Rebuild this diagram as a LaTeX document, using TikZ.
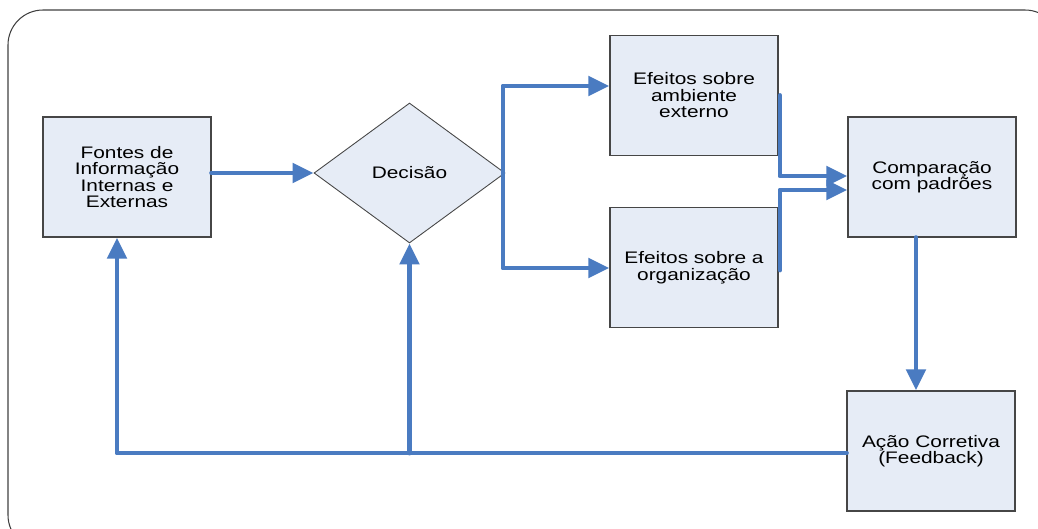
\documentclass[tikz,border=0pt]{standalone}
\usepackage{fontspec}
\setmainfont[FakeStretch=1.25]{Liberation Sans}
\usetikzlibrary{shapes.geometric,arrows.meta}
\definecolor{flow}{RGB}{74,123,193}
\definecolor{boxfill}{RGB}{230,236,246}
\definecolor{boxline}{RGB}{70,70,70}
\tikzset{
  stepbox/.style={draw=boxline, line width=0.7pt, fill=boxfill, inner sep=0pt,
    minimum width=3.36cm, minimum height=2.4cm, align=center,
    font=\fontsize{9.5}{9.4}\selectfont},
  choice/.style={diamond, draw=boxline, line width=0.5pt, fill=boxfill, inner sep=0pt,
    shape aspect=1.36, minimum width=3.82cm, minimum height=2.8cm,
    font=\fontsize{9.5}{9.4}\selectfont},
  conn/.style={draw=flow, line width=2.8pt, line cap=round, line join=round,
    -{Triangle[length=0.42cm,width=0.38cm]}},
  wire/.style={draw=flow, line width=2.8pt, line cap=round, line join=round},
}
\begin{document}
\begin{tikzpicture}[x=0.02cm,y=-0.02cm]
\useasboundingbox (0,0) rectangle (1038,528);
\begin{scope}
  \clip (0,0) rectangle (1038,528);
  \draw[black!75, line width=0.6pt, rounded corners=0.7cm] (8,10) rectangle (1060,550);
\end{scope}

% process blocks
\node[stepbox] (fontes) at (127,177) {Fontes de\\Informação\\Internas e\\Externas};
\node[choice]  (dec)    at (409.5,173) {Decisão};
\node[stepbox] (ef1)    at (694,95.5) {Efeitos sobre\\ambiente\\externo};
\node[stepbox] (ef2)    at (694,267.5) {Efeitos sobre a\\organização};
\node[stepbox] (comp)   at (932,177) {Comparação\\com padrões};
\node[stepbox] (acao)   at (931,451) {Ação Corretiva\\(Feedback)};

% routing points
\coordinate (b1) at (503,86);
\coordinate (b2) at (503,268);
\coordinate (m1) at (780,176);
\coordinate (m2) at (780,190);
\coordinate (vd) at (916,0);
\coordinate (f1) at (117,453);

% sources to decision
\draw[conn] (fontes.east |- dec.west) -- (dec.west);

% decision splits into both effects
\draw[conn] (dec.east -| b1) -- (b1) -- (b1 -| ef1.west);
\draw[conn] (dec.east -| b2) -- (b2) -- (b2 -| ef2.west);

% effects merge into comparison
\draw[conn] (ef1.east -| m1) -- (m1) -- (m1 -| comp.west);
\draw[conn] ([yshift=-0.05cm]ef2.east -| m2) -- (m2) -- (m2 -| comp.west);

% comparison to corrective action
\draw[conn] (comp.south -| vd) -- (acao.north -| vd);

% feedback loop
\draw[conn] (acao.west |- f1) -- (f1) -- (f1 |- fontes.south);
\draw[conn] (dec.south |- f1) -- (dec.south);
\end{tikzpicture}
\end{document}
